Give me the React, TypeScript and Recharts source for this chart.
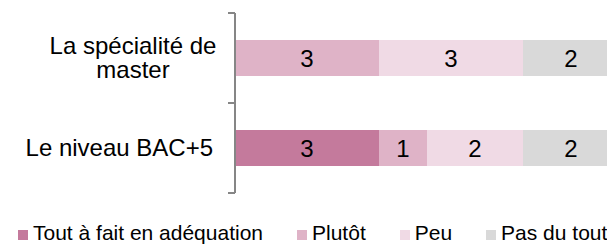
import { BarChart, Bar, XAxis, YAxis, LabelList } from 'recharts';

// categories (top to bottom) and how their labels wrap
const categories = ['La spécialité de master', 'Le niveau BAC+5'];
const categoryLines = [['La spécialité de', 'master'], ['Le niveau BAC+5']];

// counts per answer
const toutAFait = [0, 3];
const plutot = [3, 1];
const peu = [3, 2];
const pasDuTout = [2, 2];

const seriesNames = ['Tout à fait en adéquation', 'Plutôt', 'Peu', 'Pas du tout'];
const seriesKeys = ['toutAFait', 'plutot', 'peu', 'pasDuTout'];
const seriesColors = ['#C47A9C', '#DFB3C7', '#F0DAE5', '#D9D9D9'];
const xTicks = [0, 8];

const FONT = '"Liberation Sans", Arial, sans-serif';
const AXIS_COLOR = '#868686';
const TICK_GAP = 22;

const chartData = categories.map((name, i) => ({
    name,
    toutAFait: toutAFait[i],
    plutot: plutot[i],
    peu: peu[i],
    pasDuTout: pasDuTout[i],
}));

/**
 * Category label + tick marks on the band boundaries (Excel style)
 */
function CategoryTick(props: any) {
    const { x, y, payload } = props;
    const axisX = x + TICK_GAP;
    const half = payload?.offset ?? 45;
    const idx = categories.indexOf(payload.value);
    const lines = idx >= 0 ? categoryLines[idx] : [String(payload.value)];
    const lineHeight = 24;
    const first = y + 7.5 - ((lines.length - 1) * lineHeight) / 2;
    const multi = lines.length > 1;

    return (
        <g>
            <line x1={axisX - 7} x2={axisX} y1={y - half} y2={y - half} stroke={AXIS_COLOR} strokeWidth={2} />
            <line x1={axisX - 7} x2={axisX} y1={y + half} y2={y + half} stroke={AXIS_COLOR} strokeWidth={2} />
            {lines.map((line, k) => (
                <text
                    key={k}
                    x={multi ? x - 80 : x}
                    y={first + k * lineHeight}
                    textAnchor={multi ? 'middle' : 'end'}
                    fontSize={24}
                    fontFamily={FONT}
                    fill="#000"
                >
                    {line}
                </text>
            ))}
        </g>
    );
}

export default function App() {
    return (
        <div
            style={{
                position: 'absolute',
                left: 0,
                top: 0,
                width: 607,
                height: 245,
                overflow: 'hidden',
                background: '#fff',
                fontFamily: FONT,
            }}
        >
            <BarChart
                width={620}
                height={245}
                data={chartData}
                layout="vertical"
                barCategoryGap={27}
                margin={{ top: 13, right: 1, left: 0, bottom: 52 }}
            >
                <XAxis type="number" domain={[xTicks[0], xTicks[1]]} hide />
                <YAxis
                    type="category"
                    dataKey="name"
                    width={235}
                    tickLine={false}
                    tickSize={0}
                    tickMargin={TICK_GAP}
                    axisLine={{ stroke: AXIS_COLOR, strokeWidth: 2 }}
                    tick={<CategoryTick />}
                    interval={0}
                />
                {seriesKeys.map((key, i) => (
                    <Bar key={key} dataKey={key} name={seriesNames[i]} stackId="a" fill={seriesColors[i]} isAnimationActive={false}>
                        <LabelList
                            dataKey={key}
                            position="center"
                            formatter={(v: any) => (v ? v : '')}
                            fill="#000"
                            fontSize={24}
                            fontFamily={FONT}
                        />
                    </Bar>
                ))}
            </BarChart>
            <div
                style={{
                    position: 'absolute',
                    left: 18,
                    top: 222,
                    display: 'flex',
                    alignItems: 'baseline',
                    fontSize: 21,
                    lineHeight: '22px',
                    color: '#000',
                    whiteSpace: 'nowrap',
                }}
            >
                {seriesNames.map((name, i) => (
                    <div key={name} style={{ display: 'flex', alignItems: 'baseline', marginRight: 34 }}>
                        <span style={{ display: 'inline-block', width: 10, height: 10, background: seriesColors[i], marginRight: 5 }} />
                        <span>{name}</span>
                    </div>
                ))}
            </div>
        </div>
    );
}
